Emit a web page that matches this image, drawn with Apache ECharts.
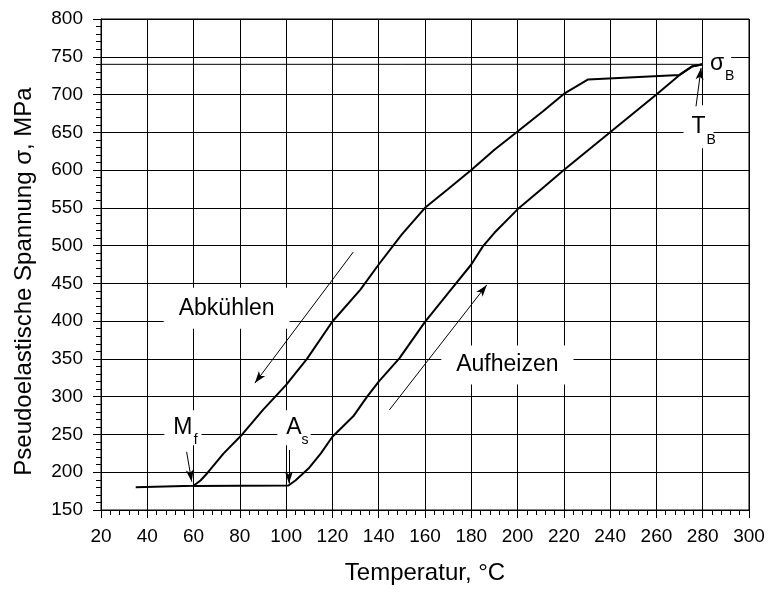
<!DOCTYPE html>
<html>
<head>
<meta charset="utf-8">
<script src="https://cdn.jsdelivr.net/npm/echarts@6/dist/echarts.min.js"></script>
<style>
  html, body { margin: 0; padding: 0; background: #fff; }
  #chart { width: 771px; height: 595px; }
</style>
</head>
<body>
<div id="chart"></div>
<script>
// Abkühlen (cooling) branch, in drawing order
var coolT = [280, 275.3, 270, 230.5, 220.5, 211, 200, 190, 180, 170, 160, 150, 140, 132, 120, 109, 100, 90, 81, 73, 66, 63, 60, 35];
var coolS = [740, 737, 726, 720, 702, 678, 651, 627, 600, 575, 550, 515, 475, 441.5, 399.5, 350, 315.6, 282.5, 250, 225, 199, 189, 182, 180];
// Aufheizen (heating) branch
var heatT = [60, 101, 104, 110, 115, 120, 129, 135, 140, 149, 160, 170, 180, 185, 190, 200, 210, 220, 240, 260, 270, 275.3, 280];
var heatS = [181.8, 182.5, 189, 206, 225, 247, 274, 300, 320, 351, 399, 437, 475, 499, 517, 548, 574, 600, 650, 700, 726, 737, 740];
// Bruchspannung sigma_B bei T_B
var sigmaB = 740;
var tB = 280;

// arrows: [from, to] in data units
var arrows = [
  [[129, 491.5], [86.5, 318]],
  [[144.6, 282.5], [186.7, 448]],
  [[57, 227], [59.2, 187.5]],
  [[101.2, 229.5], [101.2, 185]],
  [[277.1, 684.4], [279.3, 735.3]]
];

var FONT = '"Liberation Sans", Arial, Helvetica, sans-serif';

function pairs(xs, ys) {
  return xs.map(function (x, i) { return [x, ys[i]]; });
}

// text labels (text centre in data units) on white boxes, optional index letter
var notes = [
  { value: [74.3, 417], text: 'Abkühlen', padding: [9, 15, 9, 15] },
  { value: [195.6, 342], text: 'Aufheizen', padding: [8, 15, 8, 15] },
  { value: [55.4, 258.9], text: 'M', padding: [6, 9, 6, 9], sub: 'f', subOffset: [12.7, 12.2] },
  { value: [103.4, 258.9], text: 'A', padding: [6, 9, 6, 9], sub: 's', subOffset: [11, 12.2] },
  { value: [286.2, 741], text: 'σ', padding: [4, 7, 4, 7], sub: 'B', subOffset: [12.5, 13] },
  { value: [278.2, 657.5], text: 'T', padding: [10, 8, 10, 8], sub: 'B', subOffset: [12.5, 13] }
];

var chart = echarts.init(document.getElementById('chart'));

var option = {
  animation: false,
  backgroundColor: '#fff',
  grid: {
    left: 101, right: 22, top: 19, bottom: 85,
    show: true, borderColor: '#000', borderWidth: 1
  },
  xAxis: {
    type: 'value', min: 20, max: 300, interval: 20,
    name: 'Temperatur, °C', nameLocation: 'middle', nameGap: 51,
    nameTextStyle: { fontSize: 24, fontFamily: FONT, color: '#000' },
    axisLine: { lineStyle: { color: '#000', width: 1 } },
    axisTick: { length: 8, lineStyle: { color: '#000' } },
    minorTick: { show: true, splitNumber: 5, length: 5, lineStyle: { color: '#000' } },
    axisLabel: { fontSize: 19, fontFamily: FONT, color: '#000', margin: 17, showMinLabel: true, showMaxLabel: true },
    splitLine: { show: true, lineStyle: { color: '#000', width: 1 } }
  },
  yAxis: {
    type: 'value', min: 150, max: 800, interval: 50,
    name: 'Pseudoelastische Spannung σ, MPa', nameLocation: 'middle', nameGap: 65,
    nameTextStyle: { fontSize: 24, fontFamily: FONT, color: '#000', padding: [0, 34, 0, 0] },
    axisLine: { show: true, lineStyle: { color: '#000', width: 1 } },
    axisTick: { show: true, length: 8, lineStyle: { color: '#000' } },
    minorTick: { show: true, splitNumber: 5, length: 5, lineStyle: { color: '#000' } },
    axisLabel: { fontSize: 19, fontFamily: FONT, color: '#000', margin: 18 },
    splitLine: { show: true, lineStyle: { color: '#000', width: 1 } }
  },
  series: [
    {
      type: 'line', name: 'sigmaB', data: [[20, sigmaB], [tB, sigmaB]],
      showSymbol: false, symbol: 'none', lineStyle: { color: '#000', width: 1 }, z: 2
    },
    {
      type: 'line', name: 'Abkühlen', data: pairs(coolT, coolS),
      showSymbol: false, symbol: 'none', lineStyle: { color: '#000', width: 2 }, z: 3
    },
    {
      type: 'line', name: 'Aufheizen', data: pairs(heatT, heatS),
      showSymbol: false, symbol: 'none', lineStyle: { color: '#000', width: 2 }, z: 3
    },
    {
      type: 'scatter', name: 'labels', symbolSize: 0, z: 4, silent: true,
      itemStyle: { opacity: 1, color: '#000' },
      data: notes.map(function (n) {
        return {
          value: n.value,
          label: {
            show: true, position: 'inside', formatter: n.text,
            backgroundColor: '#fff', padding: n.padding,
            fontSize: 23, fontFamily: FONT, color: '#000', lineHeight: 23
          }
        };
      })
    },
    {
      type: 'scatter', name: 'index', symbolSize: 0, z: 5, silent: true,
      itemStyle: { opacity: 1, color: '#000' },
      data: notes.filter(function (n) { return n.sub; }).map(function (n) {
        return {
          value: n.value,
          label: {
            show: true, position: 'inside', formatter: n.sub, offset: n.subOffset,
            fontSize: 14, fontFamily: FONT, color: '#000', lineHeight: 14
          }
        };
      })
    },
    {
      type: 'line', name: 'arrows', data: [], z: 6, silent: true,
      markLine: {
        silent: true, animation: false,
        symbol: ['none', 'arrow'], symbolSize: [6, 12],
        label: { show: false },
        lineStyle: { color: '#000', width: 1, type: 'solid', opacity: 1 },
        emphasis: { disabled: true },
        data: arrows.map(function (a) {
          return [{ coord: a[0] }, { coord: a[1] }];
        })
      }
    }
  ]
};

chart.setOption(option);
</script>
</body>
</html>
